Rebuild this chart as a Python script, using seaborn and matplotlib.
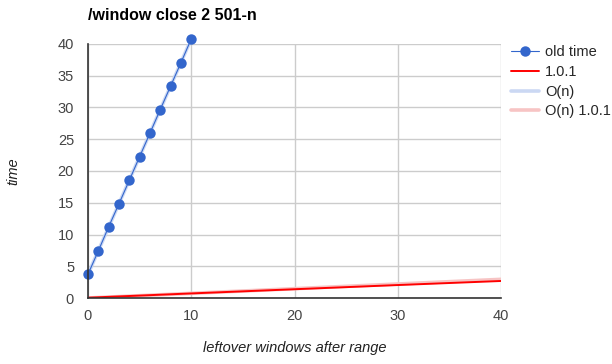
import matplotlib
matplotlib.use("Agg")
import matplotlib.pyplot as plt
import pandas as pd
import seaborn as sns

# data
old_x = [0, 1, 2, 3, 4, 5, 6, 7, 8, 9, 10]
old_time = [3.74, 7.42, 11.21, 14.84, 18.53, 22.26, 25.95, 29.68, 33.37, 37.05, 40.79]
on_x = [0, 10]
on_time = [3.74, 40.79]
new_x = [0, 5, 10, 15, 20, 25, 30, 35, 40]
new_time = [0.05, 0.38, 0.72, 1.05, 1.38, 1.71, 2.04, 2.36, 2.68]
on_new_x = [0, 40]
on_new_time = [0.0, 2.94]

TITLE = "/window close 2 501-n"
X_LABEL = "leftover windows after range"
Y_LABEL = "time"


def main():
    sns.set_style("white")
    plt.rcParams["font.family"] = ["Liberation Sans", "DejaVu Sans"]

    fig = plt.figure(figsize=(6.12, 3.64), dpi=100)
    ax = fig.add_axes([88 / 612, 1 - 298 / 364, (501 - 88) / 612, (298 - 44) / 364])

    df_on = pd.DataFrame({"x": on_x, "y": on_time})
    df_on_new = pd.DataFrame({"x": on_new_x, "y": on_new_time})
    df_new = pd.DataFrame({"x": new_x, "y": new_time})
    df_old = pd.DataFrame({"x": old_x, "y": old_time})

    sns.lineplot(data=df_old, x="x", y="y", ax=ax, color="#3366cc", linewidth=0.8,
                 marker="o", markersize=7.5, markeredgewidth=0, label="old time",
                 zorder=4, clip_on=False)
    sns.lineplot(data=df_on, x="x", y="y", ax=ax, color="#c6d4f2", linewidth=2.6,
                 label="O(n)", zorder=3, alpha=0.9)
    sns.lineplot(data=df_on_new, x="x", y="y", ax=ax, color="#f7c4c4", linewidth=2.6,
                 label="O(n) 1.0.1", zorder=2)
    sns.lineplot(data=df_new, x="x", y="y", ax=ax, color="#ff0000", linewidth=1.4,
                 label="1.0.1", zorder=3)

    ax.set_xlim(0, 40)
    ax.set_ylim(0, 40)
    ax.set_xticks([0, 10, 20, 30, 40])
    ax.set_yticks(range(0, 41, 5))
    ax.grid(True, color="#cccccc", linewidth=1)
    ax.set_axisbelow(True)
    for side in ["top", "right"]:
        ax.spines[side].set_visible(False)
    for side in ["left", "bottom"]:
        ax.spines[side].set_color("#333333")
        ax.spines[side].set_linewidth(1.2)
        ax.spines[side].set_zorder(5)
    ax.tick_params(axis="both", length=0, labelsize=10.5, labelcolor="#444444")
    ax.tick_params(axis="x", pad=8)
    ax.tick_params(axis="y", pad=10)

    ax.set_xlabel("")
    ax.set_ylabel("")
    fig.text(295 / 612, 1 - 348 / 364, X_LABEL, fontsize=10.5, fontstyle="italic",
             color="#222222", ha="center", va="center")
    fig.text(13 / 612, 1 - 171 / 364, Y_LABEL, fontsize=10.5, fontstyle="italic",
             color="#222222", ha="center", va="center", rotation=90)
    fig.text(88 / 612, 1 - 16 / 364, TITLE, fontsize=11.5, fontweight="bold",
             color="#000000", va="center", ha="left")

    handles, labels = ax.get_legend_handles_labels()
    order = ["old time", "1.0.1", "O(n)", "O(n) 1.0.1"]
    hmap = dict(zip(labels, handles))
    ax.legend([hmap[k] for k in order], order, loc="upper left",
              bbox_to_anchor=(511 / 612, 1 - 45 / 364), bbox_transform=fig.transFigure,
              frameon=False, fontsize=10.5, handlelength=1.9, handletextpad=0.45,
              labelspacing=0.4, borderaxespad=0, borderpad=0)

    fig.savefig("out.png", dpi=100)
    plt.close(fig)


if __name__ == "__main__":
    main()
